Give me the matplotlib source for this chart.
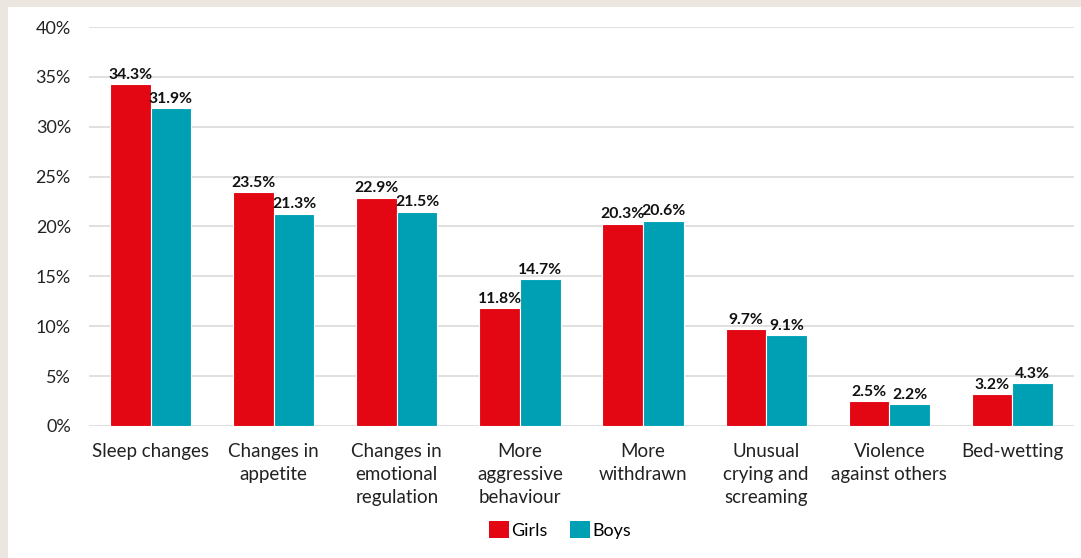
import matplotlib
matplotlib.use('Agg')
import matplotlib.pyplot as plt
import numpy as np
from matplotlib.patches import Rectangle, Patch

categories = ['Sleep changes', 'Changes in\nappetite', 'Changes in\nemotional\nregulation',
              'More\naggressive\nbehaviour', 'More\nwithdrawn', 'Unusual\ncrying and\nscreaming',
              'Violence\nagainst others', 'Bed-wetting']
girls = [34.3, 23.5, 22.9, 11.8, 20.3, 9.7, 2.5, 3.2]
boys = [31.9, 21.3, 21.5, 14.7, 20.6, 9.1, 2.2, 4.3]
yticks = [0, 5, 10, 15, 20, 25, 30, 35, 40]

red = '#E30613'
teal = '#00A0B4'
plt.rcParams['font.family'] = ['Lato', 'DejaVu Sans']

fig = plt.figure(figsize=(10.81, 5.58), dpi=100)
fig.patch.set_facecolor('#EBE7E0')
fig.add_artist(Rectangle((8 / 1081, 0), 1, 1 - 7 / 558, transform=fig.transFigure,
                         facecolor='white', edgecolor='none', zorder=0))

ax = fig.add_axes([89 / 1081, 1 - 426 / 558, 985 / 1081, 399 / 558])
ax.set_facecolor('none')

x = np.arange(len(categories))
w = 0.33
b1 = ax.bar(x - w / 2, girls, w, color=red, edgecolor='white', linewidth=0.8, zorder=3, label='Girls')
b2 = ax.bar(x + w / 2, boys, w, color=teal, edgecolor='white', linewidth=0.8, zorder=3, label='Boys')

# value labels on top of every bar
for bars, vals in [(b1, girls), (b2, boys)]:
    for rect, v in zip(bars, vals):
        ax.annotate(f'{v:.1f}%', (rect.get_x() + rect.get_width() / 2, v),
                    xytext=(0, 1.5), textcoords='offset points', ha='center', va='bottom',
                    fontsize=11.3, fontweight='bold', color='#111111', zorder=4)

ax.set_xlim(-0.5, len(categories) - 0.5)
ax.set_ylim(0, 40)
ax.set_yticks(yticks)
ax.set_yticklabels([f'{t}%' for t in yticks], fontsize=13, color='#222222')
ax.set_xticks(x)
ax.set_xticklabels(categories, fontsize=13.5, color='#222222', linespacing=1.45)
ax.tick_params(axis='both', length=0)
ax.tick_params(axis='y', pad=13)
ax.tick_params(axis='x', pad=12)
ax.yaxis.grid(True, color='#DDDDDD', linewidth=1.3, zorder=0)
for s in ax.spines.values():
    s.set_visible(False)

handles = [Patch(facecolor=red, label='Girls'), Patch(facecolor=teal, label='Boys')]
fig.legend(handles=handles, loc='center', bbox_to_anchor=(560 / 1081, 1 - 530 / 558), ncol=2,
           frameon=False, fontsize=13, handlelength=1.1, handleheight=1.1,
           handletextpad=0.15, columnspacing=1.2)

plt.savefig('out.png', dpi=100, facecolor=fig.get_facecolor())
